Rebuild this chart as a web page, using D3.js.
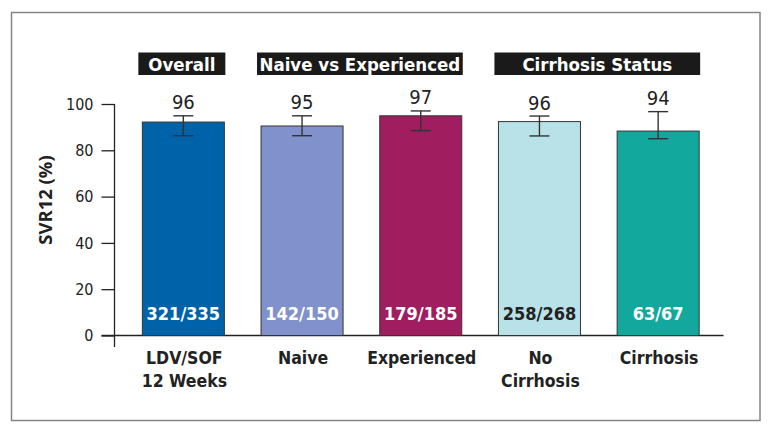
<!DOCTYPE html>
<html>
<head>
<meta charset="utf-8">
<script src="https://cdn.jsdelivr.net/npm/d3@7/dist/d3.min.js"></script>
<style>
  html, body { margin: 0; padding: 0; background: #fff; }
  svg { display: block; }
  .cond { font-family: "Liberation Sans Narrow", "DejaVu Sans Condensed", "Open Sans", sans-serif; }
</style>
</head>
<body>
<svg id="chart" width="779" height="432"></svg>
<script>
// ---- data ----
const categories = ["LDV/SOF\n12 Weeks", "Naive", "Experienced", "No\nCirrhosis", "Cirrhosis"];
const barValues  = [92.2, 90.5, 94.9, 92.4, 88.3];
const labelValues = [96, 95, 97, 96, 94];
const errLow  = [86.3, 86.3, 88.5, 86.2, 85.0];
const errHigh = [94.9, 94.9, 97.0, 94.8, 96.7];
const counts = ["321/335", "142/150", "179/185", "258/268", "63/67"];
const colors = ["#0062a8", "#8191cb", "#a01e5f", "#b9e2e8", "#12a89d"];
const countColors = ["#ffffff", "#ffffff", "#ffffff", "#222222", "#ffffff"];
const groups = [
  { label: "Overall", from: 0, to: 0 },
  { label: "Naive vs Experienced", from: 1, to: 2 },
  { label: "Cirrhosis Status", from: 3, to: 4 }
];
const yTicks = [0, 20, 40, 60, 80, 100];
const yTitle = "SVR12 (%)";

// ---- layout ----
const svg = d3.select("#chart");
const y0 = 335.5, y100 = 104;
const x = d3.scaleBand().domain(d3.range(categories.length))
  .range([124, 717.5]).paddingInner(0.309).paddingOuter(0.1545);
const y = d3.scaleLinear().domain([0, 100]).range([y0, y100]);

// frame
svg.append("rect").attr("x", 11.5).attr("y", 12.5).attr("width", 748.5).attr("height", 408)
  .attr("fill", "none").attr("stroke", "#858585").attr("stroke-width", 1.5);

// y axis
const axisX = 114.5;
const yAxis = d3.axisLeft(y).tickValues(yTicks).tickSize(13).tickPadding(8);
const gy = svg.append("g").attr("transform", `translate(${axisX},0)`).call(yAxis);
gy.select(".domain").remove();
gy.selectAll(".tick line").attr("stroke", "#222").attr("stroke-width", 1.3);
gy.selectAll(".tick text").attr("class", "cond").attr("font-size", 16).attr("fill", "#222")
  .attr("font-weight", 300);
svg.append("line").attr("x1", axisX).attr("x2", axisX).attr("y1", y(100)).attr("y2", 347)
  .attr("stroke", "#222").attr("stroke-width", 1.3);
// baseline
svg.append("line").attr("x1", 101.5).attr("x2", 723.5).attr("y1", y(0)).attr("y2", y(0))
  .attr("stroke", "#222").attr("stroke-width", 1.3);

// y title
svg.append("text").attr("transform", `translate(52,200) rotate(-90)`)
  .attr("text-anchor", "middle").attr("font-family", "'Open Sans', sans-serif")
  .attr("font-weight", 700).attr("font-size", 18.5).attr("fill", "#222").text(yTitle);

// bars
svg.append("g").selectAll("rect").data(barValues).join("rect")
  .attr("x", (d, i) => x(i)).attr("width", x.bandwidth())
  .attr("y", d => y(d)).attr("height", d => y(0) - y(d))
  .attr("fill", (d, i) => colors[i]).attr("stroke", "#333").attr("stroke-width", 1);

// error bars
const eb = svg.append("g").attr("stroke", "#333").attr("stroke-width", 1.4);
barValues.forEach((v, i) => {
  const cx = x(i) + x.bandwidth() / 2;
  eb.append("line").attr("x1", cx).attr("x2", cx).attr("y1", y(errLow[i])).attr("y2", y(errHigh[i]));
  eb.append("line").attr("x1", cx - 10).attr("x2", cx + 10).attr("y1", y(errLow[i])).attr("y2", y(errLow[i]));
  eb.append("line").attr("x1", cx - 10).attr("x2", cx + 10).attr("y1", y(errHigh[i])).attr("y2", y(errHigh[i]));
});

// value labels
svg.append("g").selectAll("text").data(labelValues).join("text")
  .attr("class", "cond")
  .attr("x", (d, i) => x(i) + x.bandwidth() / 2)
  .attr("y", (d, i) => y(errHigh[i]) - 6.5)
  .attr("text-anchor", "middle").attr("font-size", 20).attr("fill", "#222")
  .text(d => d);

// count labels
svg.append("g").selectAll("text").data(counts).join("text")
  .attr("class", "cond")
  .attr("x", (d, i) => x(i) + x.bandwidth() / 2)
  .attr("y", 320)
  .attr("text-anchor", "middle").attr("font-size", 18).attr("font-weight", 700)
  .attr("fill", (d, i) => countColors[i])
  .text(d => d);

// category labels
const cl = svg.append("g").selectAll("text").data(categories).join("text")
  .attr("class", "cond")
  .attr("x", (d, i) => x(i) + x.bandwidth() / 2 + 1)
  .attr("y", 364)
  .attr("text-anchor", "middle").attr("font-size", 17.5).attr("font-weight", 700).attr("fill", "#222");
cl.each(function(d) {
  const t = d3.select(this);
  d.split("\n").forEach((line, k) => {
    t.append("tspan").attr("x", t.attr("x")).attr("dy", k === 0 ? 0 : 22.7).text(line);
  });
});

// group header boxes
const gh = svg.append("g");
groups.forEach(g => {
  const x1 = x(g.from) - 4;
  const x2 = x(g.to) + x.bandwidth() + 1;
  gh.append("rect").attr("x", x1).attr("y", 52.5).attr("width", x2 - x1).attr("height", 22.5)
    .attr("fill", "#1a1a1a");
  gh.append("text").attr("class", "cond").attr("x", (x1 + x2) / 2).attr("y", 70.5)
    .attr("text-anchor", "middle").attr("font-size", 18.5).attr("font-weight", 700)
    .attr("fill", "#fff").text(g.label);
});
</script>
</body>
</html>
